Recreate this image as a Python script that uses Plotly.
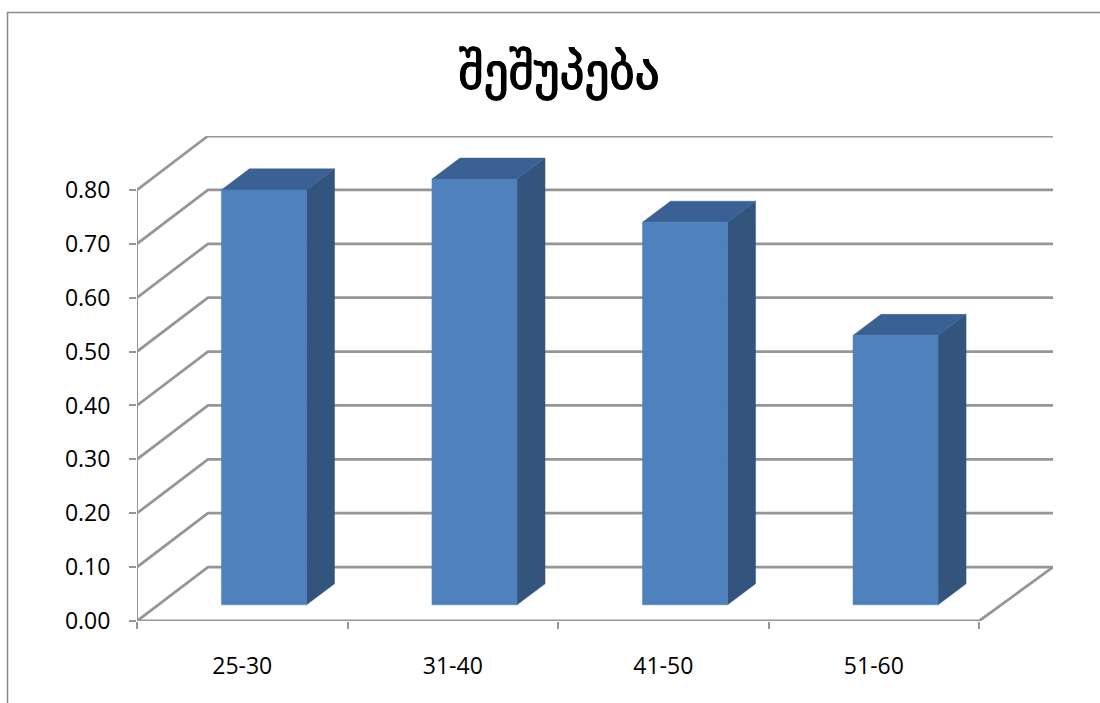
import plotly.graph_objects as go

# Chart content
title_text = "შეშუპება"
age_groups = ["25-30", "31-40", "41-50", "51-60"]
edema_values = [0.77, 0.79, 0.71, 0.50]
value_ticks = [0.0, 0.1, 0.2, 0.3, 0.4, 0.5, 0.6, 0.7, 0.8]

# Pseudo-3D geometry, in axis units
DEPTH_X = 0.337       # horizontal shift from the front of the floor to the back wall
DEPTH_Y = 0.100       # vertical shift from the front of the floor to the back wall
WALL_OVERHANG = 0.014 # back wall runs slightly past the slanted right edge of the floor
BAR_WIDTH = 0.404
BAR_SHIFT_X = 0.103   # bar front face sits part-way back on the floor
BAR_SHIFT_Y = 0.030
SIDE_X = 0.133        # depth of each bar
SIDE_Y = 0.039
N = len(age_groups)
X_END = N + DEPTH_X + WALL_OVERHANG

GRID = "#969696"
FRONT = "#4f81bd"
SIDE = "#32547d"
TOP = "#3a6094"
TEXT_FONT = "Open Sans"


def poly(xs, ys, color):
    return go.Scatter(x=xs, y=ys, mode="lines", fill="toself", fillcolor=color,
                      line=dict(color=color, width=0.5), hoverinfo="skip", showlegend=False)


def line(xs, ys, width=2.8):
    return go.Scatter(x=xs, y=ys, mode="lines", line=dict(color=GRID, width=width),
                      hoverinfo="skip", showlegend=False, cliponaxis=False)


fig = go.Figure()

# Gridlines: a slanted run on the side wall, then across the back wall
for v in value_ticks:
    fig.add_trace(line([0, DEPTH_X, X_END], [v, v + DEPTH_Y, v + DEPTH_Y]))

# Front edge and right edge of the floor, plus the value axis
fig.add_trace(line([0, N, X_END], [0, 0, DEPTH_Y]))
fig.add_trace(line([0, 0], [0, value_ticks[-1]], width=2))

# Bars: front face, then the side and top faces derived from each value
for i, v in enumerate(edema_values):
    left = i + 0.5 - BAR_WIDTH / 2 + BAR_SHIFT_X
    right = left + BAR_WIDTH
    base = BAR_SHIFT_Y
    top = base + v
    fig.add_trace(poly([right, right + SIDE_X, right + SIDE_X, right, right],
                       [base, base + SIDE_Y, top + SIDE_Y, top, base], SIDE))
    fig.add_trace(poly([left, right, right + SIDE_X, left + SIDE_X, left],
                       [top, top, top + SIDE_Y, top + SIDE_Y, top], TOP))
    fig.add_trace(poly([left, right, right, left, left],
                       [base, base, top, top, base], FRONT))

PX_W, PX_H = 1100, 703
fig.update_layout(
    width=PX_W, height=PX_H, autosize=False,
    margin=dict(l=0, r=0, t=0, b=0),
    paper_bgcolor="white", plot_bgcolor="white",
    showlegend=False,
    title=dict(text=title_text, x=559 / PX_W, xanchor="center", y=1 - 71 / PX_H, yanchor="middle",
               font=dict(family="DejaVu Sans", size=49, color="black",
                         shadow="0.7px 0 0 black, -0.7px 0 0 black, 0 0.5px 0 black")),
    xaxis=dict(
        automargin=False,
        domain=[137 / PX_W, 1053 / PX_W],
        range=[0, X_END],
        tickmode="array",
        tickvals=[i + 0.5 for i in range(N)],
        ticktext=age_groups,
        ticks="outside", ticklen=24, tickcolor="rgba(0,0,0,0)",
        showgrid=False, zeroline=False, showline=False,
        tickfont=dict(family=TEXT_FONT, size=23, color="black"),
        minor=dict(tickmode="array", tickvals=list(range(N + 1)), ticks="outside",
                   ticklen=7, tickwidth=2, tickcolor=GRID, showgrid=False),
    ),
    yaxis=dict(
        automargin=False,
        domain=[(PX_H - 621) / PX_H, (PX_H - 136) / PX_H],
        range=[0, value_ticks[-1] + DEPTH_Y],
        tickmode="array",
        tickvals=value_ticks,
        ticktext=[f"{v:.2f}" for v in value_ticks],
        ticks="outside", ticklen=7, tickwidth=2, tickcolor=GRID,
        ticklabelstandoff=14,
        showgrid=False, zeroline=False, showline=False,
        tickfont=dict(family=TEXT_FONT, size=23, color="black"),
    ),
    # Outer border of the chart area
    shapes=[dict(type="path", xref="paper", yref="paper",
                 path=f"M {7.5 / PX_W} 0 L {7.5 / PX_W} {1 - 12.5 / PX_H} L 1 {1 - 12.5 / PX_H}",
                 line=dict(color="#8c8c8c", width=1.5))],
)

fig.write_html("out.html")
